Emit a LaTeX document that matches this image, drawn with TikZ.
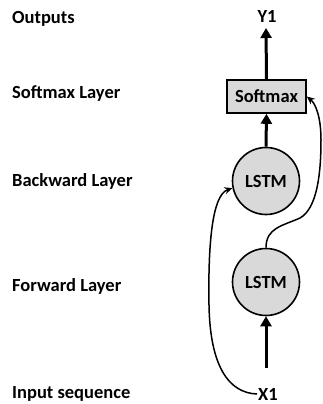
\documentclass[tikz,border=0pt]{standalone}
\usepackage{fontspec}
\setmainfont{Carlito}
\usetikzlibrary{arrows.meta}
\begin{document}
\begin{tikzpicture}[x=1pt,y=-1pt,
  lbl/.style={anchor=west,font=\fontsize{18.5}{20}\selectfont\bfseries,inner sep=0pt},
  txt/.style={font=\fontsize{18.5}{20}\selectfont\bfseries,inner sep=1pt},
  lstm/.style={circle,draw,line width=1.6pt,fill=black!15,minimum size=67pt,inner sep=0pt,font=\fontsize{18.5}{20}\selectfont\bfseries},
  smbox/.style={draw,line width=1.6pt,fill=black!15,minimum width=79pt,minimum height=33pt,inner sep=0pt,font=\fontsize{18.5}{20}\selectfont\bfseries},
  thickarr/.style={line width=3pt,-{Triangle[width=11pt,length=10pt]}},
  curvearr/.style={line width=1.5pt,-{Stealth[width=7pt,length=8pt]}}]
\useasboundingbox (0,0) rectangle (322,404);
\node[lbl] (lo) at (12,19) {Outputs};
\node[lbl] (ls) at (12,94) {Softmax Layer};
\node[lbl] (lb) at (12,181) {Backward Layer};
\node[lbl] (lf) at (12,286) {Forward Layer};
\node[lbl] (li) at (12,394) {Input sequence};
\node[txt] (y1) at (267,16) {Y1};
\node[smbox] (sm) at (266.5,96.5) {Softmax};
\node[lstm] (bw) at (266,181) {LSTM};
\node[lstm] (fw) at (266,282) {LSTM};
\node[txt] (x1) at (268,394) {X1};
\coordinate (xs) at (266,368);
\draw[thickarr] (sm.north) -- (266,28);
\draw[thickarr] (bw.north) -- (sm.south);
\draw[thickarr] (xs) -- (fw.south);
\draw[curvearr] (x1.west) .. controls (228,393) and (210,365) .. (209,305)
  .. controls (208,245) and (212,195) .. (bw.192);
\draw[curvearr] (fw.north) .. controls (266,228) and (282,226) .. (300,218)
  .. controls (318,208) and (321,170) .. (321,140)
  .. controls (321,118) and (316,104) .. (sm.east);
\end{tikzpicture}
\end{document}
